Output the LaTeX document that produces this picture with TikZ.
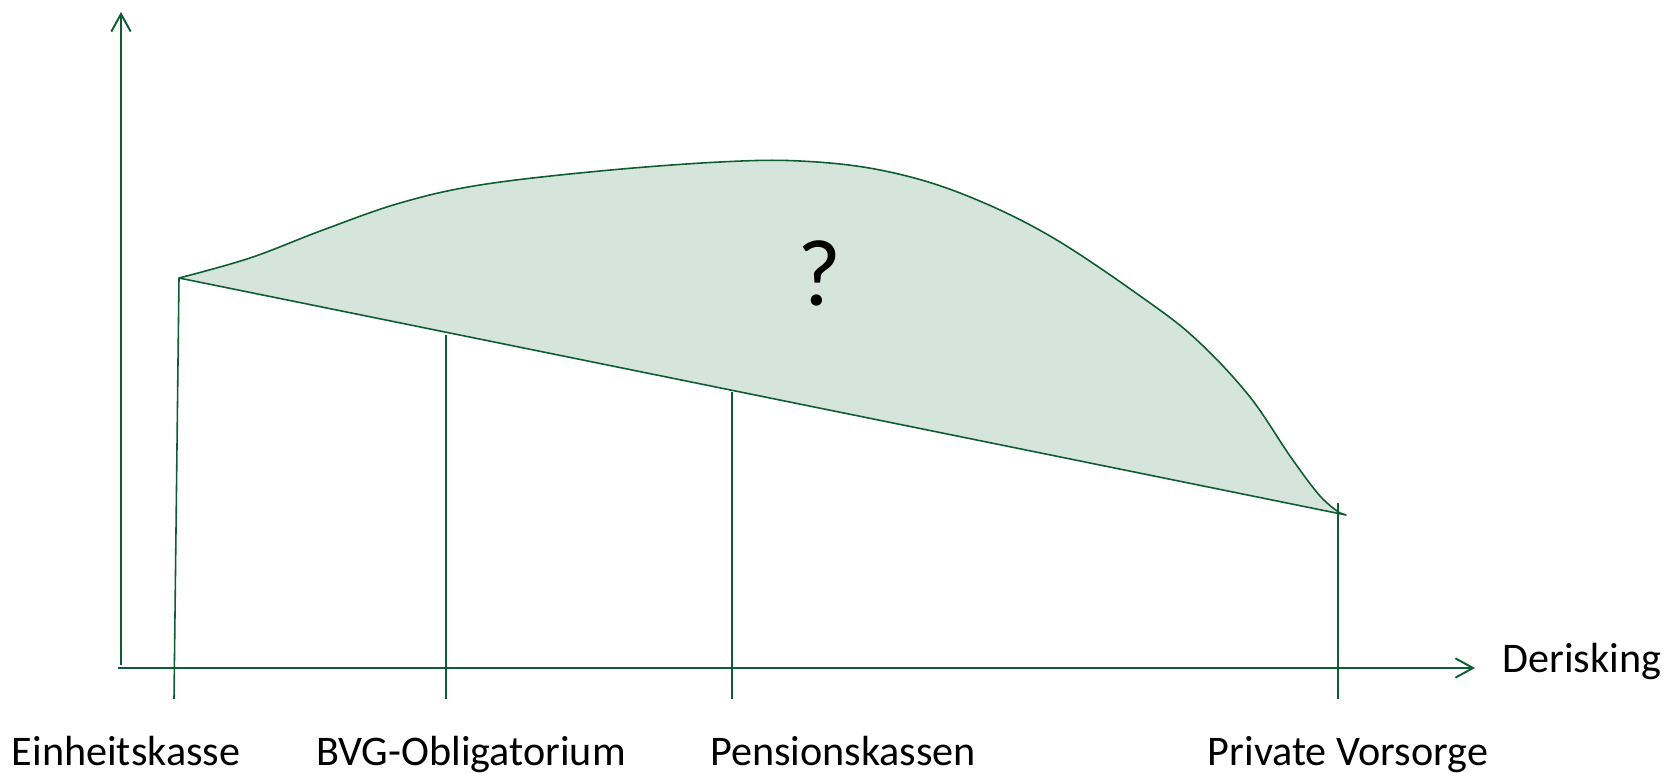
\documentclass[tikz,border=0pt]{standalone}
\usepackage{fontspec}
\setmainfont{Carlito}
\usetikzlibrary{arrows.meta}
\definecolor{curveline}{HTML}{0E5C32}
\definecolor{curvefill}{HTML}{D5E5DB}
\tikzset{
  axisline/.style={draw=curveline, line width=1.1pt,
                   -{Straight Barb[length=10pt, width=11pt]}},
  tickline/.style={draw=curveline, line width=0.9pt},
  riskarea/.style={draw=curveline, fill=curvefill, line width=0.9pt, line join=round},
  axlabel/.style={font=\fontsize{24}{28}\selectfont, inner sep=0pt, anchor=base},
}
\begin{document}
\begin{tikzpicture}[x=0.02cm, y=-0.02cm]
    \useasboundingbox (0,0) rectangle (1667,773);
    \coordinate (ybot) at (121,665);
    \coordinate (ytop) at (121,12);
    \coordinate (xl) at (118,668);
    \coordinate (xr) at (1475,668);
    \coordinate (p0) at (179,278);
    \coordinate (p4) at (1346,515);
    \draw[riskarea] plot[smooth, tension=0.6] coordinates {
      (179,278) (250,258) (323,230) (400,203) (480,185) (600,171) (720,162)
      (800,161) (880,170) (960,193) (1050,236) (1150,303) (1200,343)
      (1250,397) (1290,456) (1320,496) (1340,513)}
      -- (p4) -- cycle;
    \coordinate (p1) at (446,335);
    \coordinate (p2) at (732,392);
    \coordinate (p3) at (1338,503);
    \coordinate (t0) at (174,699);
    \coordinate (t1) at (446,699);
    \coordinate (t2) at (732,699);
    \coordinate (t3) at (1338,699);
    \draw[tickline] (p0) -- (t0);
    \draw[tickline] (p1) -- (t1);
    \draw[tickline] (p2) -- (t2);
    \draw[tickline] (p3) -- (t3);
    \draw[axisline] (ybot) -- (ytop);
    \draw[axisline] (xl) -- (xr);
    \node[font=\fontsize{54}{60}\selectfont, anchor=base, inner sep=0pt] (q) at (819,306) {?};
    \node[axlabel] (l0) at (126,765) {Einheitskasse};
    \node[axlabel] (l1) at (471,765) {BVG-Obligatorium};
    \node[axlabel] (l2) at (843,765) {Pensionskassen};
    \node[axlabel] (l3) at (1348,765) {Private Vorsorge};
    \node[axlabel, anchor=base west] (dx) at (1502,672) {Derisking};
  \end{tikzpicture}
\end{document}
